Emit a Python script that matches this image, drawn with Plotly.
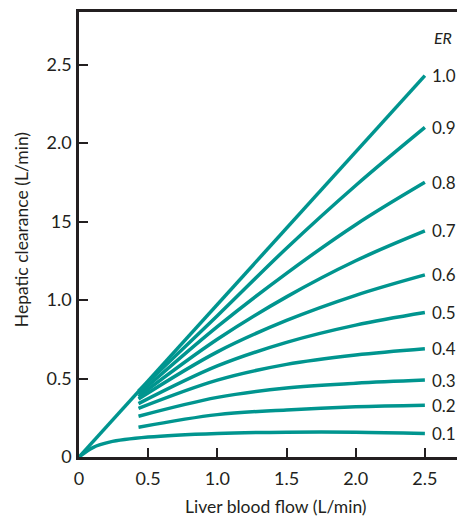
import plotly.graph_objects as go

TEAL = '#00958f'
AXIS = '#231f20'
FONT = 'Lato, "Open Sans", sans-serif'

# liver blood flow (L/min) at which the curves were read
flow = [0.43, 1.0, 1.5, 2.0, 2.5]

er_labels = ['0.9', '0.8', '0.7', '0.6', '0.5', '0.4', '0.3', '0.2']
clearance = {
    '0.9': [0.42, 0.90, 1.33, 1.73, 2.10],
    '0.8': [0.40, 0.83, 1.17, 1.48, 1.75],
    '0.7': [0.385, 0.75, 1.02, 1.25, 1.44],
    '0.6': [0.37, 0.67, 0.87, 1.03, 1.16],
    '0.5': [0.34, 0.58, 0.73, 0.84, 0.92],
    '0.4': [0.31, 0.49, 0.59, 0.65, 0.69],
    '0.3': [0.26, 0.38, 0.44, 0.47, 0.49],
    '0.2': [0.19, 0.27, 0.30, 0.32, 0.33],
}

# ER = 1.0 straight line and ER = 0.1 curve start at the origin
flow_er10 = [0, 2.5]
clear_er10 = [0, 2.43]
flow_er01 = [0, 0.1, 0.22, 0.5, 1.0, 1.5, 2.0, 2.5]
clear_er01 = [0, 0.06, 0.095, 0.127, 0.15, 0.158, 0.158, 0.15]

ytick_vals = [0, 0.5, 1.0, 1.5, 2.0, 2.5]
ytick_text = ['0', '0.5', '1.0', '15', '2.0', '2.5']
xtick_vals = [0, 0.5, 1.0, 1.5, 2.0, 2.5]
xtick_text = ['0', '0.5', '1.0', '1.5', '2.0', '2.5']

fig = go.Figure()

line = dict(color=TEAL, width=3.5)
fig.add_trace(go.Scatter(x=flow_er10, y=clear_er10, mode='lines', line=line))
for er in er_labels:
    fig.add_trace(go.Scatter(x=flow, y=clearance[er], mode='lines',
                             line=dict(line, shape='spline', smoothing=1.0)))
fig.add_trace(go.Scatter(x=flow_er01, y=clear_er01, mode='lines',
                         line=dict(line, shape='spline', smoothing=1.0)))

# ER labels at the end of each curve
ends = [('1.0', clear_er10[-1])] + [(er, clearance[er][-1]) for er in er_labels] + [('0.1', clear_er01[-1])]
for txt, yv in ends:
    fig.add_annotation(x=2.535, y=yv, text=txt, showarrow=False, xanchor='left',
                       font=dict(size=17, color=AXIS, family=FONT))
fig.add_annotation(x=2.55, y=2.67, text='<i>ER</i>', showarrow=False, xanchor='left',
                   font=dict(size=16, color=AXIS, family=FONT))

# axis titles
fig.add_annotation(xref='paper', yref='paper', x=0.51, y=-0.112, text='Liver blood flow (L/min)',
                   showarrow=False, yanchor='middle', font=dict(size=17.5, color=AXIS, family=FONT))
fig.add_annotation(xref='paper', yref='paper', x=-0.15, y=0.51, text='Hepatic clearance (L/min)',
                   showarrow=False, textangle=-90, xanchor='center', yanchor='middle',
                   font=dict(size=17.5, color=AXIS, family=FONT))

# page body has an 8px margin, so the figure is 8px smaller than the window
fig.update_layout(
    width=457, height=508,
    margin=dict(l=71, r=0, t=4, b=59),
    plot_bgcolor='white', paper_bgcolor='white',
    showlegend=False,
    font=dict(family=FONT, size=18, color=AXIS),
    xaxis=dict(range=[0, 2.79], tickmode='array', tickvals=xtick_vals, ticktext=xtick_text,
               ticks='inside', ticklen=9, tickwidth=2, tickcolor=AXIS, ticklabelstandoff=4,
               showline=True, linewidth=2.5, linecolor=AXIS, mirror=True,
               showgrid=False, zeroline=False, automargin=False),
    yaxis=dict(range=[0, 2.835], tickmode='array', tickvals=ytick_vals, ticktext=ytick_text,
               ticks='inside', ticklen=9, tickwidth=2, tickcolor=AXIS, ticklabelstandoff=1,
               showline=True, linewidth=2.5, linecolor=AXIS,
               showgrid=False, zeroline=False, automargin=False),
)

fig.write_html('out.html')
